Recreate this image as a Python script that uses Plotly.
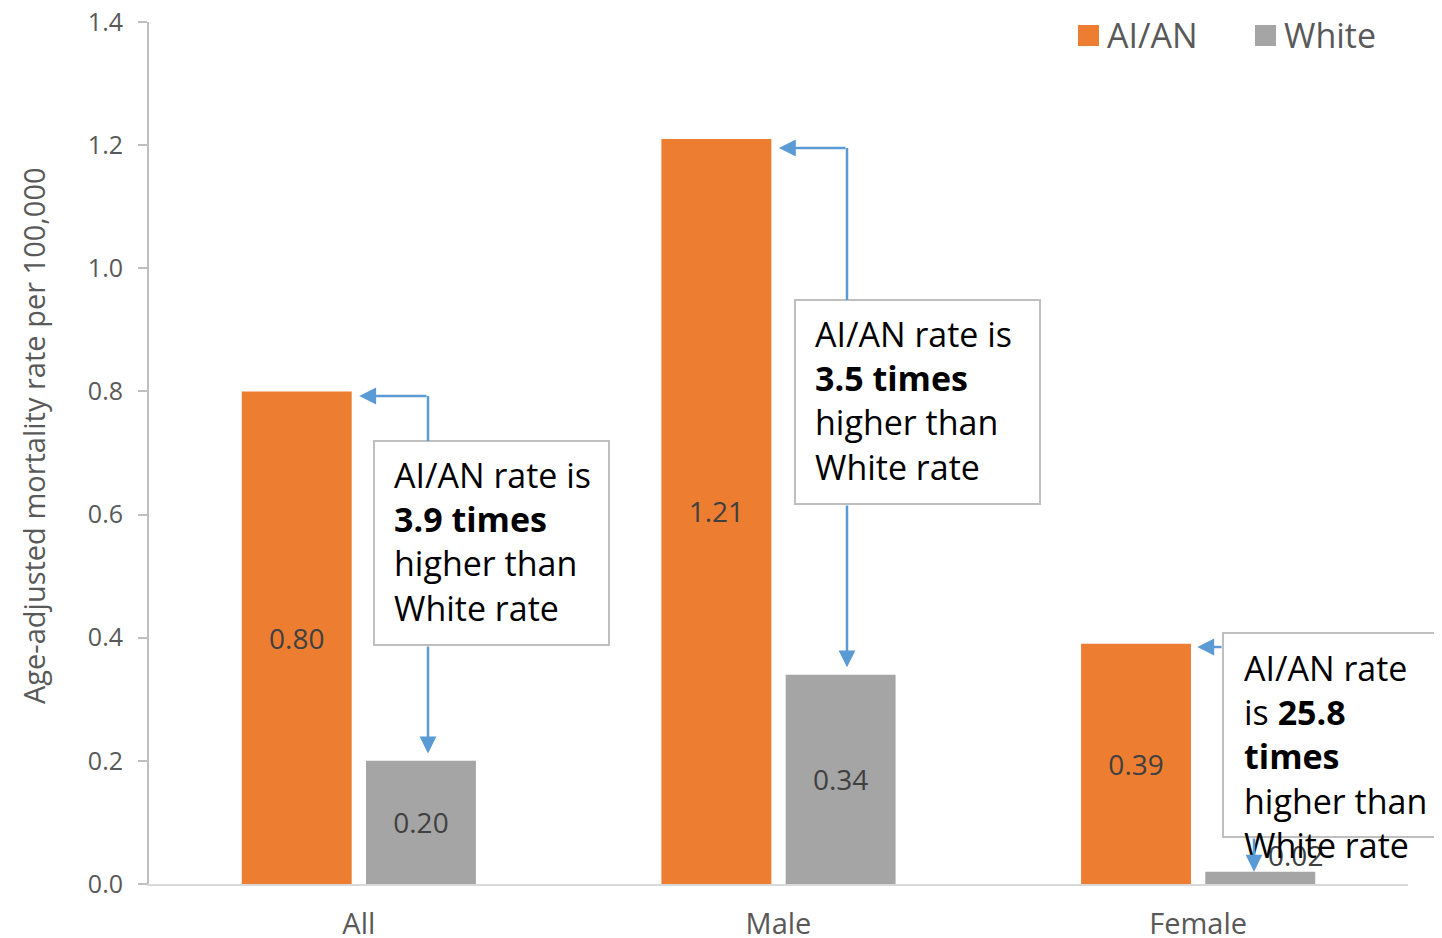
import plotly.graph_objects as go

# ---------------- data ----------------
categories = ["All", "Male", "Female"]
series_names = ["AI/AN", "White"]
aian_rates = [0.80, 1.21, 0.39]
white_rates = [0.20, 0.34, 0.02]
ratio_text = ["3.9", "3.5", "25.8"]
y_tick_vals = [0.0, 0.2, 0.4, 0.6, 0.8, 1.0, 1.2, 1.4]
y_title = "Age-adjusted mortality rate per 100,000"

# ---------------- styling / geometry ----------------
ORANGE = "#ED7D31"
GRAY = "#A5A5A5"
TEXT = "#595959"
YAXIS_LINE = "#BFBFBF"
XAXIS_LINE = "#D9D9D9"
ARROW = "#5B9BD5"
BOXLINE = "#BFBFBF"
FONT = "Open Sans"

PAGE_OFF = 8                 # default body margin of the html page
W, H = 1442 - PAGE_OFF, 938 - PAGE_OFF
L, R, T, B = 141, 34, 14, 54
PW, PH = W - L - R, H - T - B
YMAX = 1.4

BARGAP, BARGROUPGAP = 0.408, 0.115
SLOT = (1 - BARGAP) / 2
OFF = SLOT / 2                       # centre offset of each bar in its group
HALF = SLOT * (1 - BARGROUPGAP) / 2  # half bar width


def px_x(px):   # screen pixel -> paper x
    return (px - PAGE_OFF - L) / PW


def px_y(py):   # screen pixel -> paper y
    return (H - B - (py - PAGE_OFF)) / PH


def dx(px):     # screen pixel -> category coordinate
    return px_x(px) * len(categories) - 0.5


def dy(py):     # screen pixel -> data y
    return px_y(py) * YMAX


fig = go.Figure()

ai_text = [f"{v:.2f}" for v in aian_rates]
wh_text = [f"{v:.2f}" if v >= 0.1 else "" for v in white_rates]
label_font = dict(family=FONT, size=28, color="#404040")

fig.add_trace(go.Bar(
    x=categories, y=aian_rates, name=series_names[0],
    marker=dict(color=ORANGE, line=dict(width=0)),
    text=ai_text, textposition="inside", insidetextanchor="middle",
    insidetextfont=label_font, showlegend=False, hoverinfo="x+y",
))
fig.add_trace(go.Bar(
    x=categories, y=white_rates, name=series_names[1],
    marker=dict(color=GRAY, line=dict(width=0)),
    text=wh_text, textposition="inside", insidetextanchor="middle",
    insidetextfont=label_font, showlegend=False, hoverinfo="x+y",
))

shapes = []
annotations = []

# y-axis title
annotations.append(dict(
    x=px_x(33), y=px_y(436), xref="paper", yref="paper", text=y_title,
    textangle=-90, showarrow=False, xanchor="center", yanchor="middle",
    font=dict(family=FONT, size=29, color=TEXT),
))

# small-value label placed just above its bar, to the right of the arrow
for i, v in enumerate(white_rates):
    if v < 0.1:
        annotations.append(dict(
            x=i + OFF, y=v, xref="x", yref="y", text=f"{v:.2f}",
            showarrow=False, xanchor="center", yanchor="bottom",
            xshift=35, yshift=-4, font=label_font,
        ))

# ---------------- callout boxes ----------------
boxes = [  # screen pixel rectangles (x0, y0, x1, y1)
    (374, 441, 609, 645),
    (795, 300, 1040, 504),
    (1223, 633, 1480, 837),
]
text_pos = [(392, 541.5), (813, 400.5), (1242, 756)]
box_texts = [
    f"AI/AN rate is<br><b>{ratio_text[0]} times</b><br>higher than<br>White rate",
    f"AI/AN rate is<br><b>{ratio_text[1]} times</b><br>higher than<br>White rate",
    f"AI/AN rate<br>is <b>{ratio_text[2]}</b><br><b>times</b><br>higher than<br>White rate",
]
for (x0, y0, x1, y1) in boxes:
    shapes.append(dict(
        type="rect", xref="paper", yref="paper",
        x0=px_x(x0), x1=px_x(x1), y0=px_y(y1), y1=px_y(y0),
        line=dict(color=BOXLINE, width=2), fillcolor="white", layer="above",
    ))
for (tx, ty), txt in zip(text_pos, box_texts):
    annotations.append(dict(
        x=px_x(tx), y=px_y(ty), xref="paper", yref="paper", text=txt,
        showarrow=False, xanchor="left", yanchor="middle", align="left",
        font=dict(family=FONT, size=34, color="#000000"),
    ))

# ---------------- connector arrows ----------------
arrow_style = dict(showarrow=True, arrowhead=2, arrowsize=1.35, arrowwidth=2.5,
                   arrowcolor=ARROW, text="", xref="x", yref="y",
                   axref="x", ayref="y", standoff=0, startstandoff=0)


def vline(x, y0, y1):
    shapes.append(dict(type="line", xref="x", yref="y", x0=x, x1=x, y0=y0, y1=y1,
                       line=dict(color=ARROW, width=2.5), layer="above"))


# "All" and "Male": elbow up to the AI/AN bar, straight down to the White bar
elbows = [  # (category index, connector x px, elbow y px, box index)
    (0, 428, 396, 0),
    (1, 847, 148, 1),
]
for i, cx, ey, bi in elbows:
    x = dx(cx)
    bx0, by0, bx1, by1 = boxes[bi]
    vline(x, dy(by0), dy(ey))
    annotations.append(dict(arrow_style, x=i - OFF + HALF + 0.018, y=dy(ey),
                            ax=x, ay=dy(ey)))
    annotations.append(dict(arrow_style, x=x, y=white_rates[i] + 0.012,
                            ax=x, ay=dy(by1)))

# "Female": left to AI/AN bar, down to White bar
i = 2
bx0, by0, bx1, by1 = boxes[2]
annotations.append(dict(arrow_style, x=i - OFF + HALF + 0.015, y=dy(647),
                        ax=dx(bx0), ay=dy(647)))
annotations.append(dict(arrow_style, x=dx(1254), y=white_rates[i],
                        ax=dx(1254), ay=dy(by1)))

# ---------------- legend (large swatches) ----------------
legend_items = [(1078, series_names[0], ORANGE), (1255, series_names[1], GRAY)]
for sx, name, col in legend_items:
    shapes.append(dict(type="rect", xref="paper", yref="paper",
                       x0=px_x(sx), x1=px_x(sx + 21), y0=px_y(46), y1=px_y(25),
                       fillcolor=col, line=dict(width=0), layer="above"))
    annotations.append(dict(x=px_x(sx + 27), y=px_y(35.5), xref="paper", yref="paper",
                            text=name, showarrow=False, xanchor="left", yanchor="middle",
                            font=dict(family=FONT, size=34, color=TEXT)))

fig.update_layout(
    width=W, height=H, autosize=False,
    margin=dict(l=L, r=R, t=T, b=B, pad=0),
    paper_bgcolor="white", plot_bgcolor="white",
    barmode="group", bargap=BARGAP, bargroupgap=BARGROUPGAP,
    font=dict(family=FONT, color=TEXT),
    showlegend=False,
    shapes=shapes, annotations=annotations,
    xaxis=dict(
        type="category", range=[-0.5, 2.5],
        showline=True, linecolor=XAXIS_LINE, linewidth=2,
        ticks="", showgrid=False, zeroline=False,
        tickfont=dict(family=FONT, size=29, color=TEXT),
        ticklabelstandoff=13, automargin=False, ticklabeloverflow="allow",
    ),
    yaxis=dict(
        range=[0, YMAX], tickvals=y_tick_vals, tickformat=".1f",
        showline=True, linecolor=YAXIS_LINE, linewidth=2,
        ticks="outside", ticklen=9, tickcolor=YAXIS_LINE, tickwidth=2,
        showgrid=False, zeroline=False,
        tickfont=dict(family=FONT, size=25, color=TEXT),
        ticklabelstandoff=10, ticklabeloverflow="allow",
        automargin=False,
    ),
)

fig.write_html("out.html")
